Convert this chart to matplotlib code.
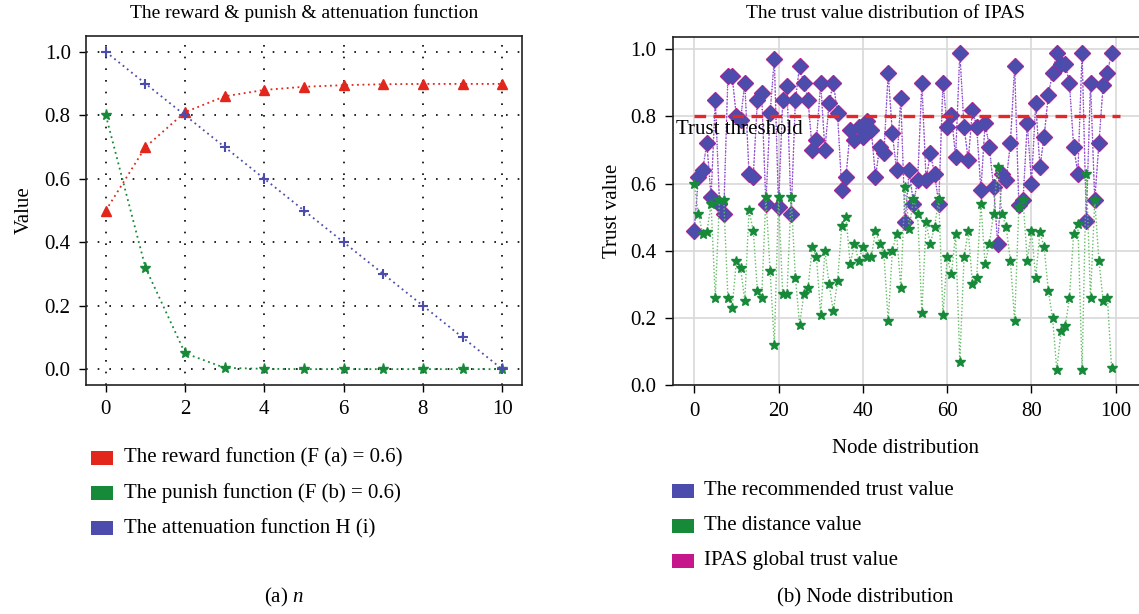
import matplotlib
matplotlib.use("Agg")
import matplotlib.pyplot as plt
from matplotlib.patches import Rectangle

plt.rcParams['font.family'] = ['Liberation Serif', 'DejaVu Serif']
plt.rcParams['mathtext.fontset'] = 'custom'
plt.rcParams['mathtext.rm'] = 'Liberation Serif'
plt.rcParams['mathtext.it'] = 'Liberation Serif:italic'

# ---------------- data: left panel ----------------
steps = list(range(11))
reward = [0.50, 0.70, 0.81, 0.86, 0.88, 0.89, 0.895, 0.898, 0.899, 0.899, 0.899]
punish = [0.80, 0.32, 0.05, 0.004, 0.001, 0.0, 0.0, 0.0, 0.0, 0.0, 0.0]
attenuation = [1.0, 0.9, 0.8, 0.7, 0.6, 0.5, 0.4, 0.3, 0.2, 0.1, 0.0]
left_labels = ["The reward function (F (a) = 0.6)",
               "The punish function (F (b) = 0.6)",
               "The attenuation function H (i)"]

# ---------------- data: right panel ----------------
nodes = list(range(100))
recommended = [0.46, 0.62, 0.64, 0.72, 0.56, 0.85, 0.54, 0.51, 0.92, 0.92,
               0.80, 0.79, 0.90, 0.63, 0.62, 0.85, 0.87, 0.54, 0.81, 0.97,
               0.53, 0.85, 0.89, 0.51, 0.85, 0.95, 0.90, 0.85, 0.70, 0.73,
               0.90, 0.70, 0.84, 0.90, 0.81, 0.58, 0.62, 0.76, 0.73, 0.77,
               0.74, 0.785, 0.76, 0.62, 0.71, 0.69, 0.93, 0.75, 0.64, 0.855,
               0.485, 0.64, 0.54, 0.61, 0.90, 0.61, 0.69, 0.63, 0.54, 0.90,
               0.77, 0.805, 0.68, 0.99, 0.77, 0.67, 0.82, 0.77, 0.58, 0.78,
               0.71, 0.59, 0.42, 0.63, 0.61, 0.72, 0.95, 0.535, 0.55, 0.78,
               0.60, 0.84, 0.65, 0.74, 0.865, 0.93, 0.99, 0.955, 0.955, 0.90,
               0.71, 0.63, 0.99, 0.49, 0.90, 0.55, 0.72, 0.895, 0.93, 0.99]
distance = [0.60, 0.51, 0.45, 0.455, 0.54, 0.26, 0.55, 0.55, 0.26, 0.23,
            0.37, 0.35, 0.25, 0.52, 0.46, 0.28, 0.26, 0.56, 0.34, 0.12,
            0.56, 0.27, 0.27, 0.56, 0.32, 0.18, 0.27, 0.29, 0.41, 0.38,
            0.21, 0.40, 0.30, 0.22, 0.31, 0.475, 0.50, 0.36, 0.42, 0.37,
            0.41, 0.38, 0.38, 0.46, 0.42, 0.39, 0.19, 0.40, 0.45, 0.29,
            0.59, 0.465, 0.555, 0.51, 0.215, 0.485, 0.42, 0.47, 0.555, 0.21,
            0.38, 0.33, 0.45, 0.07, 0.38, 0.46, 0.30, 0.32, 0.54, 0.36,
            0.42, 0.51, 0.65, 0.51, 0.47, 0.37, 0.19, 0.53, 0.55, 0.37,
            0.46, 0.32, 0.455, 0.41, 0.28, 0.20, 0.045, 0.16, 0.175, 0.26,
            0.45, 0.48, 0.045, 0.63, 0.26, 0.55, 0.37, 0.25, 0.26, 0.05]
# global trust values coincide with the recommended ones in the picture
global_trust = [0.46, 0.62, 0.64, 0.72, 0.56, 0.85, 0.54, 0.51, 0.92, 0.92,
                0.80, 0.79, 0.90, 0.63, 0.62, 0.85, 0.87, 0.54, 0.81, 0.97,
                0.53, 0.85, 0.89, 0.51, 0.85, 0.95, 0.90, 0.85, 0.70, 0.73,
                0.90, 0.70, 0.84, 0.90, 0.81, 0.58, 0.62, 0.76, 0.73, 0.77,
                0.74, 0.785, 0.76, 0.62, 0.71, 0.69, 0.93, 0.75, 0.64, 0.855,
                0.485, 0.64, 0.54, 0.61, 0.90, 0.61, 0.69, 0.63, 0.54, 0.90,
                0.77, 0.805, 0.68, 0.99, 0.77, 0.67, 0.82, 0.77, 0.58, 0.78,
                0.71, 0.59, 0.42, 0.63, 0.61, 0.72, 0.95, 0.535, 0.55, 0.78,
                0.60, 0.84, 0.65, 0.74, 0.865, 0.93, 0.99, 0.955, 0.955, 0.90,
                0.71, 0.63, 0.99, 0.49, 0.90, 0.55, 0.72, 0.895, 0.93, 0.99]
trust_threshold = 0.8
right_labels = ["The recommended trust value",
                "The distance value",
                "IPAS global trust value"]

# ---------------- styling ----------------
RED = '#e2261c'
GREEN = '#178a3a'
BLUE = '#4b4cab'
MAGENTA = '#c6168c'
W, H = 1139, 614
FS = 15

def fx(px):
    return px / W

def fy(py):
    return 1 - py / H

fig = plt.figure(figsize=(W / 100, H / 100), dpi=100)

# ---------------- left panel ----------------
ax1 = fig.add_axes([fx(86), fy(385), (522 - 86) / W, (385 - 36) / H])
ax1.plot(steps, reward, color=RED, ls=(0, (1, 2)), lw=1.3, marker='^', ms=7,
         mec=RED, mfc=RED, zorder=3)
ax1.plot(steps, punish, color=GREEN, ls=(0, (1, 2)), lw=1.3, marker='*', ms=8,
         mec=GREEN, mfc=GREEN, zorder=3)
ax1.plot(steps, attenuation, color=BLUE, ls=(0, (1, 2)), lw=1.3, marker='+',
         ms=7, mew=1.5, zorder=3)
ax1.set_xlim(-0.5, 10.5)
ax1.set_ylim(-0.05, 1.05)
ax1.set_xticks(range(0, 11, 2))
ax1.set_yticks([0.0, 0.2, 0.4, 0.6, 0.8, 1.0])
ax1.set_yticklabels(['0.0', '0.2', '0.4', '0.6', '0.8', '1.0'])
ax1.grid(True, color='black', ls=(0, (1, 6)), lw=1.2)
ax1.set_axisbelow(True)
ax1.tick_params(labelsize=FS, direction='out', length=5, width=1, pad=6)
for s in ax1.spines.values():
    s.set_color('#222222')
    s.set_linewidth(1.2)
ax1.set_ylabel('Value', fontsize=FS, labelpad=8)

fig.text(fx(304), fy(13), 'The reward & punish & attenuation function',
         ha='center', va='center', fontsize=14)

for i, (lab, col) in enumerate(zip(left_labels, [RED, GREEN, BLUE])):
    yc = [457.7, 493.3, 528.3][i]
    fig.add_artist(Rectangle((fx(91), fy(yc + 7)), 22 / W, 14 / H,
                             transform=fig.transFigure, color=col, lw=0))
    fig.text(fx(124), fy(yc), lab, ha='left', va='center', fontsize=FS)

fig.text(fx(284), fy(597), r'(a) $\mathit{n}$', ha='center', va='center', fontsize=FS)

# ---------------- right panel ----------------
ax2 = fig.add_axes([fx(672.7), fy(385), 1 - fx(672.7), (385 - 36.7) / H])
ax2.plot(nodes, global_trust, color='#b040c8', ls=(0, (1, 1.5)), lw=1.0,
         marker='D', ms=8.0, mfc=MAGENTA, mec=MAGENTA, zorder=3)
ax2.plot(nodes, recommended, color='#6a50d0', ls=(0, (1, 1.5)), lw=0.7, marker='D',
         ms=6.8, mfc=BLUE, mec=BLUE, zorder=4)
ax2.plot(nodes, distance, color='#62bd62', ls=(0, (1, 1.5)), lw=1.0, marker='*',
         ms=7.5, mfc=GREEN, mec=GREEN, zorder=5)
ax2.hlines(trust_threshold, nodes[0], nodes[-1] + 2, colors='#e8262a',
           linestyles=(0, (3.5, 2.2)), lw=2.4, zorder=6)
ax2.text(-4.3, 0.76, 'Trust threshold', ha='left', va='center', fontsize=FS,
         zorder=7)
ax2.set_xlim(-5.1, 105.5)
ax2.set_ylim(0, 1.0375)
ax2.set_xticks(range(0, 101, 20))
ax2.set_yticks([0.0, 0.2, 0.4, 0.6, 0.8, 1.0])
ax2.set_yticklabels(['0.0', '0.2', '0.4', '0.6', '0.8', '1.0'])
ax2.grid(True, color='#d8d8d8', ls='-', lw=1.2)
ax2.set_axisbelow(True)
ax2.tick_params(labelsize=FS, direction='out', length=6, width=1, pad=6)
ax2.spines['right'].set_visible(False)
for k in ['left', 'bottom', 'top']:
    ax2.spines[k].set_color('#222222')
    ax2.spines[k].set_linewidth(1.2)
ax2.set_ylabel('Trust value', fontsize=FS, labelpad=6)
ax2.set_xlabel('Node distribution', fontsize=FS, labelpad=13)

fig.text(fx(885), fy(13), 'The trust value distribution of IPAS',
         ha='center', va='center', fontsize=14)

for i, (lab, col) in enumerate(zip(right_labels, [BLUE, GREEN, MAGENTA])):
    yc = [490.7, 525.7, 560.7][i]
    fig.add_artist(Rectangle((fx(672), fy(yc + 7)), 22 / W, 14 / H,
                             transform=fig.transFigure, color=col, lw=0))
    fig.text(fx(704), fy(yc), lab, ha='left', va='center', fontsize=FS)

fig.text(fx(865), fy(598), '(b) Node distribution', ha='center', va='center',
         fontsize=FS)

fig.savefig('out.png', dpi=100)
